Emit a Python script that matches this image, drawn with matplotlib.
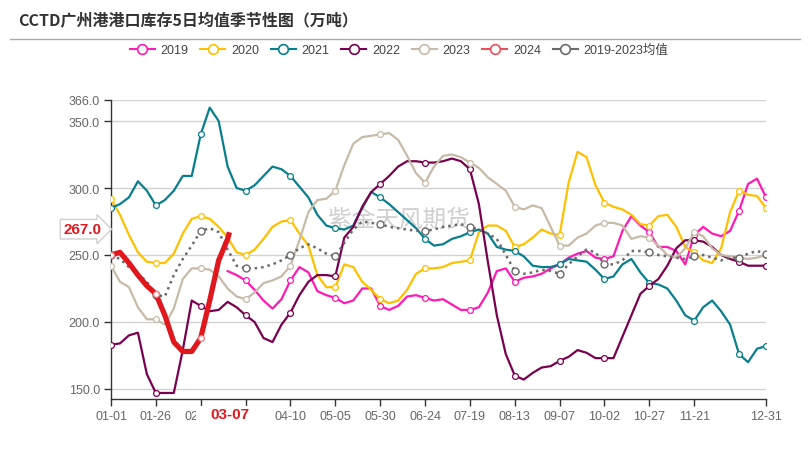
import numpy as np
import matplotlib
matplotlib.use('Agg')
import matplotlib.pyplot as plt
from matplotlib.lines import Line2D
from matplotlib.patches import Rectangle
from matplotlib.transforms import blended_transform_factory

plt.rcParams['font.family'] = ['Liberation Sans', 'Noto Sans CJK SC', 'DejaVu Sans']

# day index on a leap-year calendar, one reading every 5 days (01-01 .. 12-31)
days = np.arange(0, 366, 5)
tick_days = [0, 25, 50, 75, 100, 125, 150, 175, 200, 225, 250, 275, 300, 325, 365]
tick_labels = ['01-01', '01-26', '02-20', '03-17', '04-10', '05-05', '05-30', '06-24',
               '07-19', '08-13', '09-07', '10-02', '10-27', '11-21', '12-31']

nan = np.nan
y2019 = [nan] * 13 + [238, 235,
         231, 224, 216, 210, 217, 231, 241, 237, 223, 220, 218, 214, 216, 225, 225,
         212, 209, 212, 219, 220, 218, 216, 217, 213, 209, 209, 211, 222, 238, 240,
         230, 233, 234, 236, 240, 243, 248, 251, 253, 248, 247, 249, 268, 279, 272,
         267, 256, 256, 253, 243, 265, 271, 266, 264, 268, 283, 303, 307, 293]
y2020 = [292, 280, 265, 252, 245, 244, 244, 251, 266, 277, 279, 277, 271, 263, 252,
         250, 254, 262, 271, 275, 276, 266, 257, 235, 226, 226, 243, 241, 230, 224,
         217, 214, 216, 224, 236, 240, 240, 241, 244, 245, 246, 267, 272, 272, 268,
         256, 258, 263, 269, 266, 265, 304, 327, 323, 302, 289, 286, 284, 280, 273,
         272, 279, 280, 271, 256, 252, 246, 244, 255, 282, 298, 295, 294, 285]
y2021 = [285, 288, 293, 305, 298, 287, 291, 298, 309, 309, 340, 360, 350, 316, 300,
         298, 302, 309, 316, 314, 309, 301, 293, 280, 272, 270, 269, 272, 285, 297,
         293, 288, 282, 276, 270, 262, 257, 258, 262, 264, 267, 269, 266, 256, 254,
         253, 249, 242, 241, 241, 243, 247, 246, 245, 239, 232, 234, 243, 247, 237,
         229, 228, 225, 216, 205, 201, 211, 216, 208, 198, 176, 170, 180, 182]
y2022 = [183, 184, 190, 192, 161, 147, 147, 147, 179, 216, 212, 208, 209, 215, 211,
         205, 200, 188, 185, 198, 207, 220, 230, 235, 235, 234, 263, 271, 286, 297,
         303, 309, 316, 320, 320, 319, 319, 320, 322, 320, 314, 288, 245, 205, 176,
         160, 157, 162, 166, 167, 171, 174, 179, 177, 173, 173, 173, 189, 205, 221,
         227, 232, 242, 255, 261, 261, 260, 256, 250, 247, 245, 242, 242, 242]
y2023 = [242, 230, 226, 211, 202, 202, 198, 210, 232, 240, 240, 239, 234, 225, 219,
         217, 222, 229, 231, 234, 242, 261, 282, 291, 292, 298, 317, 333, 338, 339,
         340, 341, 336, 324, 311, 304, 316, 324, 325, 323, 319, 315, 308, 303, 298,
         286, 284, 287, 285, 271, 257, 257, 263, 266, 272, 274, 274, 272, 262, 264,
         263, 257, 250, 248, 255, 267, 264, 255, 250, 249, 248, 247, 248, 250]
y_mean = [250, 247, 241, 236, 230, 220, 219, 235, 247, 257, 268, 270, 267, 254, 242,
          240, 240, 241, 243, 246, 250, 255, 258, 255, 251, 249, 259, 269, 275, 274,
          273, 271, 270, 269, 268, 268, 269, 271, 272, 273, 271, 269, 266, 262, 250,
          238, 236, 237, 239, 238, 236, 243, 249, 254, 252, 243, 243, 246, 253, 253,
          252, 250, 249, 248, 247, 249, 250, 248, 246, 248, 248, 251, 253, 251]
days_2024 = [0, 5, 10, 15, 20, 25, 30, 35, 40, 45, 50, 55, 60, 65, 66]
y2024 = [250, 252, 244, 235, 227, 221, 205, 185, 178, 178, 188, 216, 246, 262, 267]
pointer_day = '03-07'

series = [
    ('2019', y2019, '#ff1ab3'),
    ('2020', y2020, '#ffc000'),
    ('2021', y2021, '#087f8c'),
    ('2022', y2022, '#7a0050'),
    ('2023', y2023, '#c8baa8'),
]
red = '#e0181e'
grey = '#6a6a6a'

W, H = 808, 460


def main():
    fig = plt.figure(figsize=(W / 100, H / 100), dpi=100)
    ax = fig.add_axes([111 / W, 1 - 400 / H, (766 - 111) / W, (400 - 100.6) / H])

    marks = list(range(0, 71, 5)) + [73]
    for name, vals, col in series:
        ax.plot(days, vals, color=col, lw=1.6, marker='o', markevery=marks,
                markersize=4.2, markerfacecolor='white', markeredgewidth=0.9,
                markeredgecolor=col, zorder=3)
    ax.plot(days, y_mean, color=grey, lw=1.8, ls=(0, (1, 1.6)), marker='o',
            markevery=marks, markersize=5, markerfacecolor='white',
            markeredgewidth=1, markeredgecolor=grey, zorder=4)
    ax.plot(days_2024, y2024, color=red, lw=3.8, solid_capstyle='butt',
            solid_joinstyle='round', zorder=5)
    ax.plot([days_2024[i] for i in (0, 5, 10)], [y2024[i] for i in (0, 5, 10)],
            ls='none', marker='o', markersize=4.2, markerfacecolor='white',
            markeredgecolor='#f07a7e', markeredgewidth=0.9, zorder=6)

    ax.set_xlim(0, 365)
    ax.set_ylim(142.5, 366)
    yt = [150, 200, 250, 300, 350, 366]
    ax.set_yticks(yt)
    ax.set_yticklabels([f'{v:.1f}' for v in yt])
    ax.set_xticks(tick_days)
    # the 03-17 label sits under the pointer label in the original
    ax.set_xticklabels(['' if lab == '03-17' else lab for lab in tick_labels])
    ax.yaxis.grid(True, color='#d2d2d2', lw=1)
    ax.set_axisbelow(True)
    for s in ('top', 'right'):
        ax.spines[s].set_visible(False)
    for s in ('left', 'bottom'):
        ax.spines[s].set_color('#333333')
        ax.spines[s].set_linewidth(1)
    ax.tick_params(axis='both', color='#333333', labelcolor='#666666',
                   length=5, width=1, labelsize=9)
    ax.tick_params(axis='y', pad=3)
    ax.tick_params(axis='x', pad=3)

    # pointer labels of the last 2024 point
    trans = blended_transform_factory(ax.transData, ax.transAxes)
    ax.add_patch(Rectangle((47.5, -0.12), 37, 0.097, transform=trans, fc='white',
                           ec='none', clip_on=False, zorder=6))
    ax.text(days_2024[-1], -0.026, pointer_day, transform=trans, ha='center', va='top',
            fontsize=11, fontweight='bold', color=red, zorder=7)
    ax.annotate(f'{y2024[-1]:.1f}', xy=(0, y2024[-1]), xycoords=('axes fraction', 'data'),
                xytext=(-10, 3), textcoords='offset pixels', ha='right', va='center',
                fontsize=11, fontweight='bold', color=red,
                bbox=dict(boxstyle='rarrow,pad=0.18', fc='white', ec='#d0d0d0', lw=1))

    ax.text(0.44, 0.6, '紫金天风期货', transform=ax.transAxes, ha='center', va='center',
            fontsize=17, color='#cfcfcf', family=['Noto Sans CJK SC'], zorder=1)

    fig.text(18 / W, 1 - 21 / H, 'CCTD广州港港口库存5日均值季节性图（万吨）',
             fontsize=11.5, fontweight='bold', color='#333333', va='center',
             family=['Noto Sans CJK SC'])
    fig.add_artist(Line2D([10 / W, 800 / W], [1 - 40 / H] * 2, color='#aaaaaa', lw=1))

    handles = []
    labels = []
    for name, vals, col in series + [('2024', None, '#e8505a'), ('2019-2023均值', None, grey)]:
        handles.append(Line2D([], [], color=col, lw=1.5, marker='o', markersize=7,
                              markerfacecolor='white', markeredgecolor=col,
                              markeredgewidth=1.2))
        labels.append(name)
    fig.legend(handles, labels, loc='center', bbox_to_anchor=(399 / W, 1 - 51 / H),
               ncol=7, frameon=False, handlelength=2.0, handletextpad=0.45,
               columnspacing=0.95, fontsize=9, labelcolor='#444444')

    fig.savefig('out.png', dpi=100)
    plt.close(fig)


if __name__ == '__main__':
    main()
